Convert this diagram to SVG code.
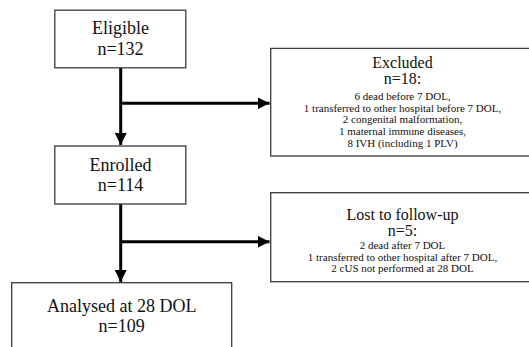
<svg xmlns="http://www.w3.org/2000/svg" width="529" height="347" viewBox="0 0 529 347">
<style>
.box{fill:#fff;stroke:#3a3a3a;stroke-width:1.3}
.big{font-family:"Liberation Serif",serif;font-size:18px;fill:#111;text-anchor:middle}
.mid{font-family:"Liberation Serif",serif;font-size:16px;fill:#111;text-anchor:middle}
.sm{font-family:"Liberation Serif",serif;font-size:11px;fill:#111;text-anchor:middle}
.con{stroke:#000;stroke-width:3;fill:none}
</style>
<defs>
<marker id="ah" markerWidth="4" markerHeight="4" refX="4" refY="2" orient="auto" markerUnits="strokeWidth">
<path d="M0,0 L4,2 L0,4 Z" fill="#000"/>
</marker>
</defs>
<rect width="529" height="347" fill="#fff"/>
<g id="connectors">
<path class="con" d="M120.7,68 V145" marker-end="url(#ah)"/>
<path class="con" d="M120.7,103.3 H269.5" marker-end="url(#ah)"/>
<path class="con" d="M120.7,204 V282" marker-end="url(#ah)"/>
<path class="con" d="M120.7,241.7 H269.5" marker-end="url(#ah)"/>
</g>
<g id="eligible">
<rect class="box" x="54.8" y="10.2" width="131" height="57.6"/>
<text class="big" x="120.5" y="34.3">Eligible</text>
<text class="big" x="120.5" y="55">n=132</text>
</g>
<g id="excluded">
<rect class="box" x="270.7" y="48.4" width="280" height="107.6"/>
<text class="mid" x="402.5" y="68">Excluded</text>
<text class="mid" x="402.5" y="83.5">n=18:</text>
<text class="sm" x="402.5" y="100">6 dead before 7 DOL,</text>
<text class="sm" x="402.5" y="111.7">1 transferred to other hospital before 7 DOL,</text>
<text class="sm" x="402.5" y="123.3">2 congenital malformation,</text>
<text class="sm" x="402.5" y="135">1 maternal immune diseases,</text>
<text class="sm" x="402.5" y="146.7">8 IVH (including 1 PLV)</text>
</g>
<g id="enrolled">
<rect class="box" x="54.8" y="146" width="131" height="58"/>
<text class="big" x="120.5" y="171">Enrolled</text>
<text class="big" x="120.5" y="191">n=114</text>
</g>
<g id="lost">
<rect class="box" x="270.7" y="192.7" width="280" height="89"/>
<text class="mid" x="402.5" y="220">Lost to follow-up</text>
<text class="mid" x="402.5" y="235.5">n=5:</text>
<text class="sm" x="402.5" y="249">2 dead after 7 DOL</text>
<text class="sm" x="402.5" y="260.7">1 transferred to other hospital after 7 DOL,</text>
<text class="sm" x="402.5" y="272.3">2 cUS not performed at 28 DOL</text>
</g>
<g id="analysed">
<rect class="box" x="11.7" y="282.7" width="220" height="80"/>
<text class="big" x="121.7" y="311.7">Analysed at 28 DOL</text>
<text class="big" x="121.7" y="331.7">n=109</text>
</g>
</svg>
